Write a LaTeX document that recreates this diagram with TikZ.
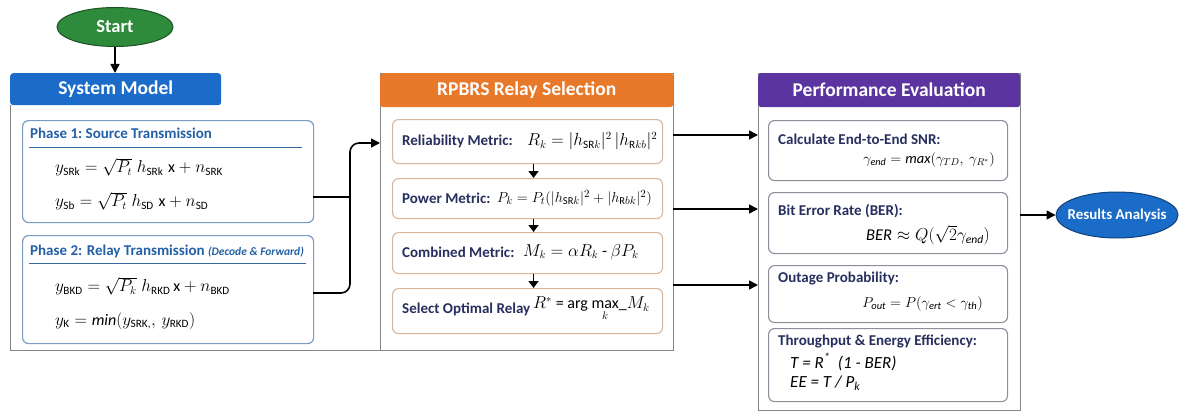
\documentclass[tikz,border=0pt]{standalone}
\usepackage{amsmath}
\usepackage{fontspec}
\setmainfont{Carlito}
\usetikzlibrary{arrows.meta,shapes.geometric}
\definecolor{sysblue}{HTML}{1A6CC8}
\definecolor{rpbrsorange}{HTML}{E8792A}
\definecolor{perfpurple}{HTML}{5B34A0}
\definecolor{startgreen}{HTML}{2F8B3C}
\definecolor{phaseblue}{HTML}{2360A8}
\definecolor{navy}{HTML}{262F5E}
\definecolor{phaseborder}{HTML}{7C9CBF}
\definecolor{metricborder}{HTML}{D9B59C}
\definecolor{perfborder}{HTML}{8E8E9A}
\definecolor{outergrey}{HTML}{858585}
\tikzset{
  hdr/.style={rounded corners=3pt, anchor=north west, inner sep=0pt, text=white,
    font=\bfseries\fontsize{19.5}{22}\selectfont},
  outerbox/.style={draw=outergrey, line width=1pt, anchor=north west, inner sep=0pt},
  phasebox/.style={draw=phaseborder, line width=1.2pt, rounded corners=6pt, anchor=north west, inner sep=0pt, fill=white},
  metricbox/.style={draw=metricborder, line width=1.1pt, rounded corners=6pt, anchor=north west, inner sep=0pt, fill=white},
  perfbox/.style={draw=perfborder, line width=1.1pt, rounded corners=6pt, anchor=north west, inner sep=0pt, fill=white},
  conn/.style={draw=black, line width=1.6pt, -{Triangle[length=9pt,width=9pt]}},
  smallconn/.style={draw=black, line width=1.6pt, -{Triangle[length=7pt,width=10pt]}},
  phasetitle/.style={anchor=west, inner sep=0pt, text=phaseblue, font=\bfseries\fontsize{15}{17}\selectfont},
  uline/.style={draw=phaseblue!80!gray, line width=1pt},
  lbl/.style={anchor=west, inner sep=0pt, text=navy, font=\bfseries\fontsize{15}{17}\selectfont},
  eq/.style={anchor=west, inner sep=0pt, font=\fontsize{16}{18}\selectfont},
  eqr/.style={anchor=east, inner sep=0pt, font=\fontsize{16}{18}\selectfont},
  oval/.style={ellipse, inner sep=0pt, line width=1pt},
  ovaltext/.style={inner sep=0pt, text=white, font=\bfseries\fontsize{15}{17}\selectfont},
  itexpr/.style={anchor=west, inner sep=0pt, font=\itshape\fontsize{17}{19}\selectfont}
}
\newcommand{\tx}[1]{\text{#1}}
\begin{document}
\begin{tikzpicture}[x=1pt,y=-1pt]
\useasboundingbox (0,0) rectangle (1183,412);
% Start
\node[oval, fill=startgreen, draw=startgreen!60!black, minimum width=116pt, minimum height=39pt] (start) at (115,27) {};
\node[ovaltext, font=\bfseries\fontsize{18.5}{20}\selectfont] (startT) at (start.center) {Start};
% ---------- System Model
\node[hdr, fill=sysblue, minimum width=211pt, minimum height=32pt] (sysH) at (10,73) {System Model};
\coordinate (sysBL) at (10,350);
\coordinate (sysBR) at (380,350);
\draw[outergrey, line width=1pt] (sysH.south west) -- (sysBL) -- (sysBR);
\draw[conn] (start.south) -- (sysH.north -| start.south);
% Phase 1
\node[phasebox, minimum width=291pt, minimum height=102pt] (p1) at (22,120) {};
\node[phasetitle] (p1t) at (30,133) {Phase 1:\ Source Transmission};
\coordinate (u1a) at (29,147); \coordinate (u1b) at (302,147);
\draw[uline] (u1a) -- (u1b);
\node[eq] (e1) at (55,167) {$y_{\tx{SRk}} = \sqrt{P_t}\; h_{\tx{SRk}}\; \mathrm{x} + n_{\tx{SRK}}$};
\node[eq] (e2) at (55,201) {$y_{\tx{Sb}} = \sqrt{P_t}\; h_{\tx{SD}}\; \mathrm{x} + n_{\tx{SD}}$};
% Phase 2
\node[phasebox, minimum width=291pt, minimum height=108pt] (p2) at (22,235) {};
\node[phasetitle] (p2t) at (30,251) {Phase 2: Relay Transmission {\itshape\fontsize{11.5}{13}\selectfont (Decode \& Forward)}};
\coordinate (u2a) at (29,263); \coordinate (u2b) at (306,263);
\draw[uline] (u2a) -- (u2b);
\node[eq] (e3) at (55,286) {$y_{\tx{BKD}} = \sqrt{P_k}\; h_{\tx{RKD}}\, \mathrm{x} + n_{\tx{BKD}}$};
\node[eq] (e4) at (55,321) {$y_{\tx{K}} = \mathit{min}(y_{\tx{SRK,}},\, y_{\tx{RKD}})$};
% ---------- RPBRS
\node[outerbox, minimum width=293pt, minimum height=277pt] (rpO) at (380,73) {};
\node[hdr, fill=rpbrsorange, minimum width=293pt, minimum height=34pt] (rpH) at (380,73) {RPBRS Relay Selection};
\node[metricbox, minimum width=270pt, minimum height=44pt] (rel) at (392,119) {};
\node[metricbox, minimum width=270pt, minimum height=40pt] (pow) at (392,178) {};
\node[metricbox, minimum width=270pt, minimum height=41pt] (comb) at (392,232) {};
\node[metricbox, minimum width=270pt, minimum height=45pt] (sel) at (392,288) {};
\node[lbl] (relL) at (402,141) {Reliability Metric:};
\node[eq] (relE) at (527,141) {$R_k = |h_{\tx{SR}k}|^2\, |h_{\tx{R}kb}|^2$};
\node[lbl] (powL) at (402,198) {Power Metric:};
\node[eq, font=\fontsize{15}{17}\selectfont] (powE) at (497,198) {$P_k = P_t(|h_{\tx{SR}k}|^2 + |h_{\tx{R}bk}|^2)$};
\node[lbl] (combL) at (402,252) {Combined Metric:};
\node[eq] (combE) at (523,252) {$M_k = \alpha R_k$ - $\beta P_k$};
\node[lbl] (selL) at (402,309) {Select Optimal Relay};
\node[eq] (selE) at (533,309) {$R^{*}$ = arg $\underset{k}{\text{max}}$\_$M_k$};
\draw[smallconn] ([xshift=6pt]rel.south) -- ([xshift=6pt]pow.north);
\draw[smallconn] ([xshift=6pt]pow.south) -- ([xshift=6pt]comb.north);
\draw[smallconn] ([xshift=6pt]comb.south) -- ([xshift=6pt]sel.north);
% connectors System -> RPBRS
\coordinate (j1) at (313,197);
\coordinate (j2) at (313,293);
\coordinate (jm) at (350,197);
\draw[line width=1.6pt] (j1) -- (jm);
\draw[conn, rounded corners=9pt] (j2) -- (350,293) -- (350,143) -- (rpO.west |- 0,143);
% ---------- Performance
\node[outerbox, minimum width=262pt, minimum height=337pt] (peO) at (758,73) {};
\node[hdr, fill=perfpurple, minimum width=262pt, minimum height=34pt] (peH) at (758,73) {Performance Evaluation};
\node[perfbox, minimum width=239pt, minimum height=60pt] (snr) at (768,120) {};
\node[perfbox, minimum width=239pt, minimum height=61pt] (ber) at (768,192) {};
\node[perfbox, minimum width=239pt, minimum height=57pt] (out) at (768,265) {};
\node[perfbox, minimum width=239pt, minimum height=73pt] (thr) at (768,328) {};
\node[lbl] (snrL) at (778,139) {Calculate End-to-End SNR:};
\node[eqr, font=\fontsize{14.5}{17}\selectfont] (snrE) at (995,160) {$\gamma_{\mathit{end}} = \mathit{max}(\gamma_{TD},\ \gamma_{R^{*}})$};
\node[lbl] (berL) at (778,211) {Bit Error Rate (BER):};
\node[eqr, font=\fontsize{16.5}{18}\selectfont] (berE) at (990,235) {$\mathit{BER} \approx Q(\sqrt{2}\gamma_{\mathit{end}})$};
\node[lbl] (outL) at (778,279) {Outage Probability:};
\node[eqr, font=\fontsize{15}{17}\selectfont] (outE) at (983,304) {$P_{\mathit{out}} = P(\gamma_{\mathit{ert}} < \gamma_{\mathit{th}})$};
\node[lbl] (thrL) at (778,341) {Throughput \& Energy Efficiency:};
\node[itexpr] (thrE1) at (790,362) {T = R\textsuperscript{*}\ \ (1 - BER)};
\node[itexpr] (thrE2) at (790,383) {EE = T / P\textsubscript{k}};
% connectors RPBRS -> Performance
\coordinate (a1) at (673,135); \coordinate (a2) at (673,209); \coordinate (a3) at (673,285);
\draw[conn] (a1) -- (peO.west |- a1);
\draw[conn] (a2) -- (peO.west |- a2);
\draw[conn] (a3) -- (peO.west |- a3);
% Results
\node[oval, fill=sysblue, draw=sysblue!60!black, minimum width=122pt, minimum height=46pt] (res) at (1117,215) {};
\node[ovaltext] (resT) at (res.center) {Results Analysis};
\coordinate (pr) at (1020,215);
\draw[conn] (pr) -- (res.west);
\end{tikzpicture}
\end{document}
